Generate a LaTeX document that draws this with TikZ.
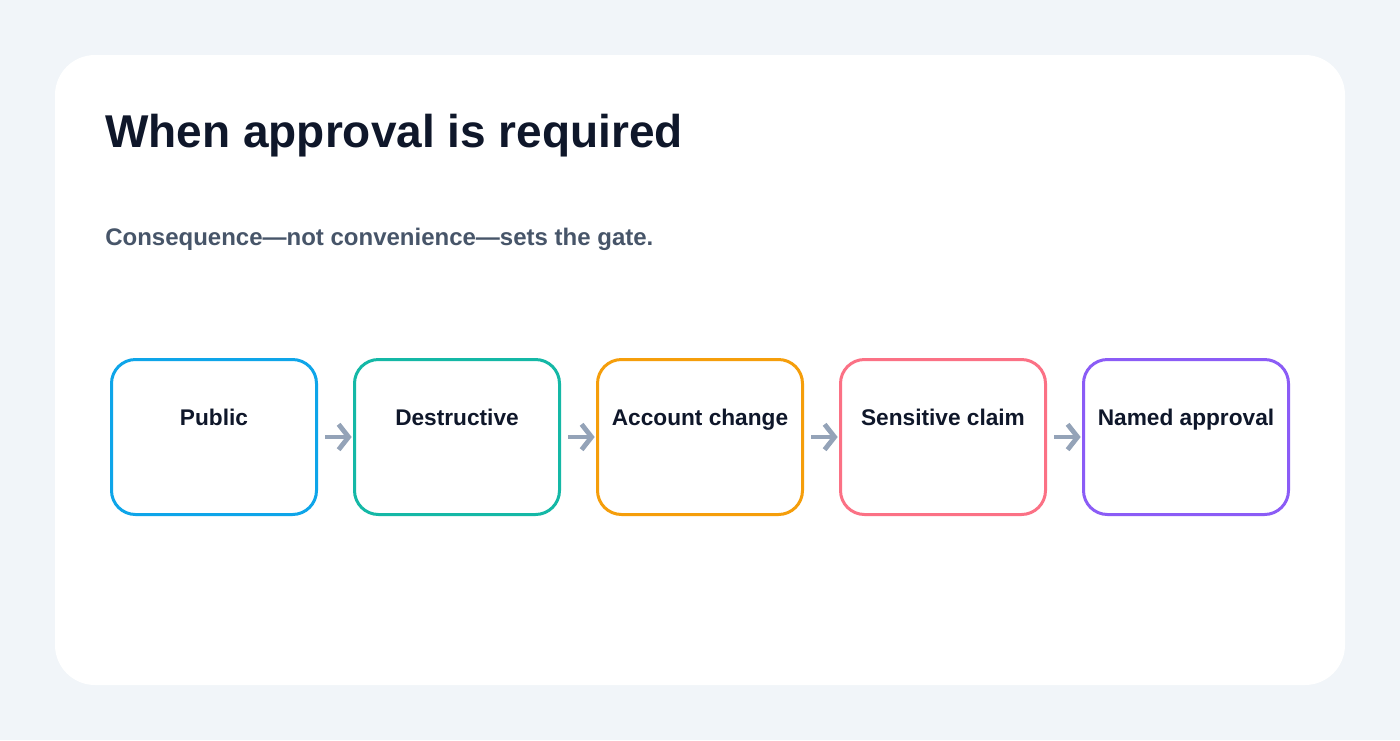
\documentclass[tikz,border=0pt]{standalone}
\usepackage{fontspec}
\setmainfont{Liberation Sans}
\usetikzlibrary{arrows.meta}
\definecolor{bgc}{HTML}{F1F5F9}
\definecolor{titlec}{HTML}{0F172A}
\definecolor{subc}{HTML}{475569}
\definecolor{arrc}{HTML}{94A3B8}
\definecolor{cblue}{HTML}{0EA5E9}
\definecolor{cteal}{HTML}{14B8A6}
\definecolor{camber}{HTML}{F59E0B}
\definecolor{crose}{HTML}{FB7185}
\definecolor{cpurple}{HTML}{8B5CF6}
\tikzset{
  stepbox/.style={draw=#1, line width=2.25pt, rounded corners=18pt, fill=white,
    minimum width=153.75pt, minimum height=116.25pt, inner sep=0pt},
  steplbl/.style={anchor=base, font=\fontsize{17}{20}\selectfont\bfseries, text=titlec, inner sep=0pt},
  flowarrow/.style={draw=arrc, line width=3.6pt, -{Straight Barb[length=7.5pt,width=19pt]},
    shorten <=5.5pt, shorten >=1pt},
}
\begin{document}
\begin{tikzpicture}[x=0.75pt,y=-0.75pt]
\useasboundingbox (0,0) rectangle (1400,740);
\fill[bgc] (0,0) rectangle (1400,740);
\fill[white, rounded corners=30pt] (55,55) rectangle (1345,685);
\node[anchor=base west, inner sep=0pt, text=titlec, font=\fontsize{34.5}{40}\selectfont\bfseries] (title) at (105,147) {When approval is required};
\node[anchor=base west, inner sep=0pt, text=subc, font=\fontsize{18}{22}\selectfont\bfseries] (sub) at (105,245) {Consequence—not convenience—sets the gate.};
\node[stepbox=cblue] (b1) at (214,437) {};
\node[stepbox=cteal] (b2) at (457,437) {};
\node[stepbox=camber] (b3) at (700,437) {};
\node[stepbox=crose] (b4) at (943,437) {};
\node[stepbox=cpurple] (b5) at (1186,437) {};
\node[steplbl] (t1) at (214,425) {Public};
\node[steplbl] (t2) at (457,425) {Destructive};
\node[steplbl] (t3) at (700,425) {Account change};
\node[steplbl] (t4) at (943,425) {Sensitive claim};
\node[steplbl] (t5) at (1186,425) {Named approval};
\draw[flowarrow] (b1.east) -- (b2.west);
\draw[flowarrow] (b2.east) -- (b3.west);
\draw[flowarrow] (b3.east) -- (b4.west);
\draw[flowarrow] (b4.east) -- (b5.west);
\end{tikzpicture}
\end{document}
